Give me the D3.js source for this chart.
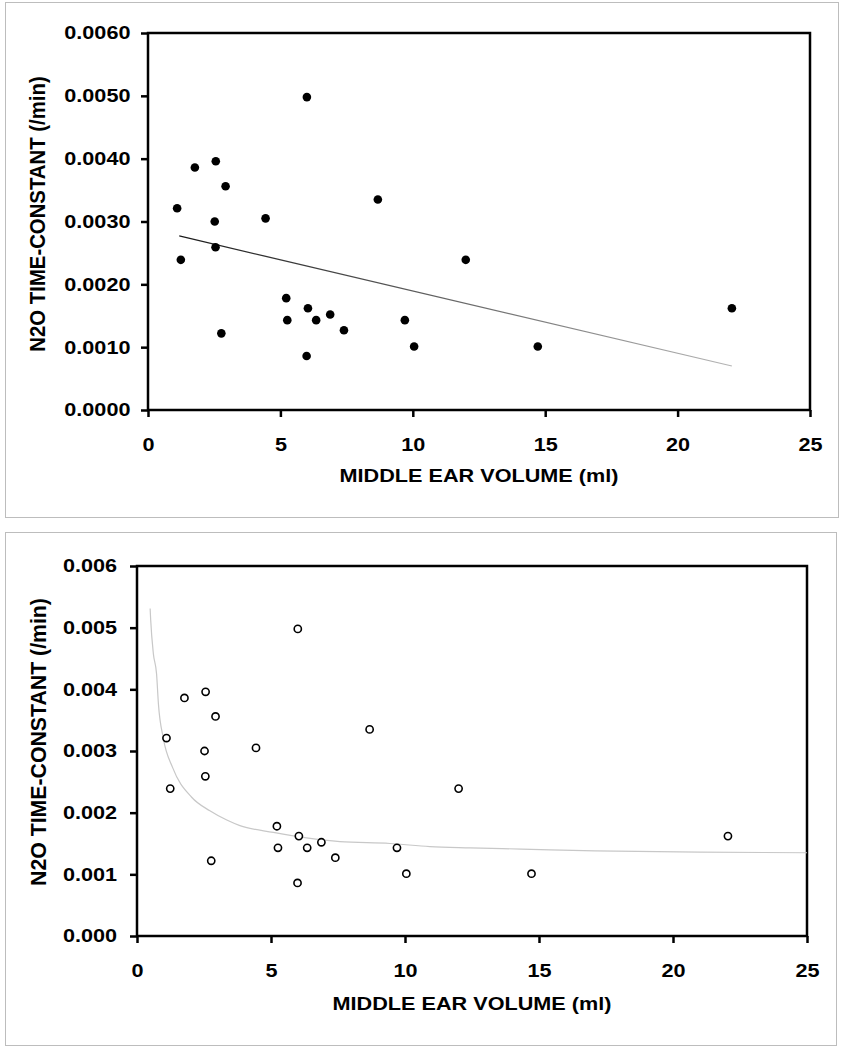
<!DOCTYPE html>
<html>
<head>
<meta charset="utf-8">
<script src="https://cdn.jsdelivr.net/npm/d3@7"></script>
<style>
  body { margin: 0; background: #fff; }
  svg text { font-family: "Liberation Sans", Arial, sans-serif; font-weight: bold; fill: #000; }
</style>
</head>
<body>
<div id="chart"></div>
<script>
// middle ear volume (ml) and N2O time-constant (/min), same subjects in both panels
const volume = [6.0, 1.77, 2.56, 2.93, 1.10, 8.68, 2.52, 4.44, 2.55, 1.24, 12.0, 5.22,
                6.04, 5.26, 6.35, 6.88, 7.40, 9.70, 2.77, 10.05, 5.99, 14.72, 22.05];
const timeConst = [0.00498, 0.00386, 0.00396, 0.00356, 0.00321, 0.00335, 0.00300, 0.00305,
                   0.00259, 0.00239, 0.00239, 0.00178, 0.00162, 0.00143, 0.00143, 0.00152,
                   0.00127, 0.00143, 0.00122, 0.00101, 0.00086, 0.00101, 0.00162];

// linear trend line (top panel), end points
const trendX = [1.18, 22.05];
const trendY = [0.00277, 0.00070];

// fitted curve (bottom panel)
const curveX = [0.49, 0.51, 0.61, 0.73, 0.80, 0.98, 1.33, 2.04, 2.72, 3.35, 3.84, 5.09,
                6.33, 7.57, 9.44, 10.93, 12.43, 14.35, 17.09, 21.0, 25.0];
const curveY = [0.00531, 0.00513, 0.00458, 0.00425, 0.00376, 0.00321, 0.00273, 0.00225,
                0.00203, 0.00188, 0.00179, 0.00168, 0.00159, 0.00153, 0.00150, 0.00145,
                0.00143, 0.00141, 0.00138, 0.00136, 0.00135];

const xTicks = [0, 5, 10, 15, 20, 25];
const yTicks = [0, 0.001, 0.002, 0.003, 0.004, 0.005, 0.006];
const xTitle = "MIDDLE EAR VOLUME (ml)";
const yTitle = "N2O TIME-CONSTANT (/min)";

const points = volume.map((v, i) => ({ v: v, t: timeConst[i] }));

const svg = d3.select("#chart")
  .append("svg")
  .attr("width", 845)
  .attr("height", 1050);

const defs = svg.append("defs");

// text looks horizontally stretched in the original
const sx = 1.17;
const fs = "18.5px";

function drawPanel(cfg) {
  // outer panel border
  svg.append("rect")
    .attr("x", cfg.box[0] + 0.5)
    .attr("y", cfg.box[1] + 0.5)
    .attr("width", cfg.box[2])
    .attr("height", cfg.box[3])
    .attr("fill", "none")
    .attr("stroke", "#bdbdbd")
    .attr("stroke-width", 1);

  const x = d3.scaleLinear().domain([0, 25]).range([cfg.left, cfg.right]);
  const y = d3.scaleLinear().domain([0, 0.006]).range([cfg.bottom, cfg.top]);

  const g = svg.append("g");

  // x axis
  const xa = g.append("g")
    .attr("transform", "translate(0," + cfg.bottom + ")")
    .call(d3.axisBottom(x).tickValues(xTicks).tickSize(7).tickPadding(21).tickFormat(d3.format("d")));
  xa.select(".domain").remove();
  xa.selectAll("line").attr("stroke", "#000").attr("stroke-width", 2.5);
  xa.selectAll("text")
    .style("font-size", fs)
    .attr("transform", "scale(" + sx + ",1)");

  // y axis
  const ya = g.append("g")
    .attr("transform", "translate(" + cfg.left + ",0)")
    .call(d3.axisLeft(y).tickValues(yTicks).tickSize(7).tickPadding(cfg.yPad).tickFormat(d3.format(cfg.yFmt)));
  ya.select(".domain").remove();
  ya.selectAll("line").attr("stroke", "#000").attr("stroke-width", 2.5);
  ya.selectAll("text")
    .style("font-size", fs)
    .attr("transform", "scale(" + sx + ",1)");

  // plot frame
  g.append("rect")
    .attr("x", cfg.left)
    .attr("y", cfg.top)
    .attr("width", cfg.right - cfg.left)
    .attr("height", cfg.bottom - cfg.top)
    .attr("fill", "none")
    .attr("stroke", "#000")
    .attr("stroke-width", 2.5);

  // axis titles
  g.append("text")
    .attr("transform", "translate(" + ((cfg.left + cfg.right) / 2) + "," + cfg.xTitleY + ") scale(" + sx + ",1)")
    .attr("text-anchor", "middle")
    .style("font-size", fs)
    .text(xTitle);

  g.append("text")
    .attr("transform", "translate(" + cfg.yTitleX + "," + cfg.yTitleY + ") rotate(-90) scale(" + cfg.yTitleScale + "," + sx + ")")
    .attr("text-anchor", "middle")
    .style("font-size", fs)
    .text(yTitle);

  return { g: g, x: x, y: y };
}

// ---- top panel: filled dots + linear trend
const upper = drawPanel({
  box: [5, 2, 833, 515],
  left: 148, right: 810, top: 33, bottom: 410,
  yFmt: ".4f", yPad: 8,
  xTitleY: 482, yTitleX: 45, yTitleY: 214, yTitleScale: 1.1
});

const grad = defs.append("linearGradient")
  .attr("id", "trendGrad")
  .attr("gradientUnits", "userSpaceOnUse")
  .attr("x1", upper.x(trendX[0])).attr("x2", upper.x(trendX[1]))
  .attr("y1", 0).attr("y2", 0);
grad.append("stop").attr("offset", "0%").attr("stop-color", "#1a1a1a");
grad.append("stop").attr("offset", "100%").attr("stop-color", "#b5b5b5");

upper.g.append("path")
  .datum(trendX.map((v, i) => ({ v: v, t: trendY[i] })))
  .attr("d", d3.line().x(d => upper.x(d.v)).y(d => upper.y(d.t)))
  .attr("fill", "none")
  .attr("stroke", "url(#trendGrad)")
  .attr("stroke-width", 1.2);

upper.g.append("g")
  .selectAll("circle")
  .data(points)
  .enter()
  .append("circle")
  .attr("cx", d => upper.x(d.v))
  .attr("cy", d => upper.y(d.t))
  .attr("r", 4.3)
  .attr("fill", "#000");

// ---- bottom panel: open circles + fitted curve
const lower = drawPanel({
  box: [5, 532, 831, 513],
  left: 137, right: 807, top: 566, bottom: 936,
  yFmt: ".3f", yPad: 10,
  xTitleY: 1010, yTitleX: 46, yTitleY: 742, yTitleScale: 1.15
});

lower.g.append("path")
  .datum(curveX.map((v, i) => ({ v: v, t: curveY[i] })))
  .attr("d", d3.line().curve(d3.curveMonotoneX).x(d => lower.x(d.v)).y(d => lower.y(d.t)))
  .attr("fill", "none")
  .attr("stroke", "#c8c8c8")
  .attr("stroke-width", 1.2);

lower.g.append("g")
  .selectAll("circle")
  .data(points)
  .enter()
  .append("circle")
  .attr("cx", d => lower.x(d.v))
  .attr("cy", d => lower.y(d.t))
  .attr("r", 3.6)
  .attr("fill", "#fff")
  .attr("stroke", "#000")
  .attr("stroke-width", 1.6);
</script>
</body>
</html>
